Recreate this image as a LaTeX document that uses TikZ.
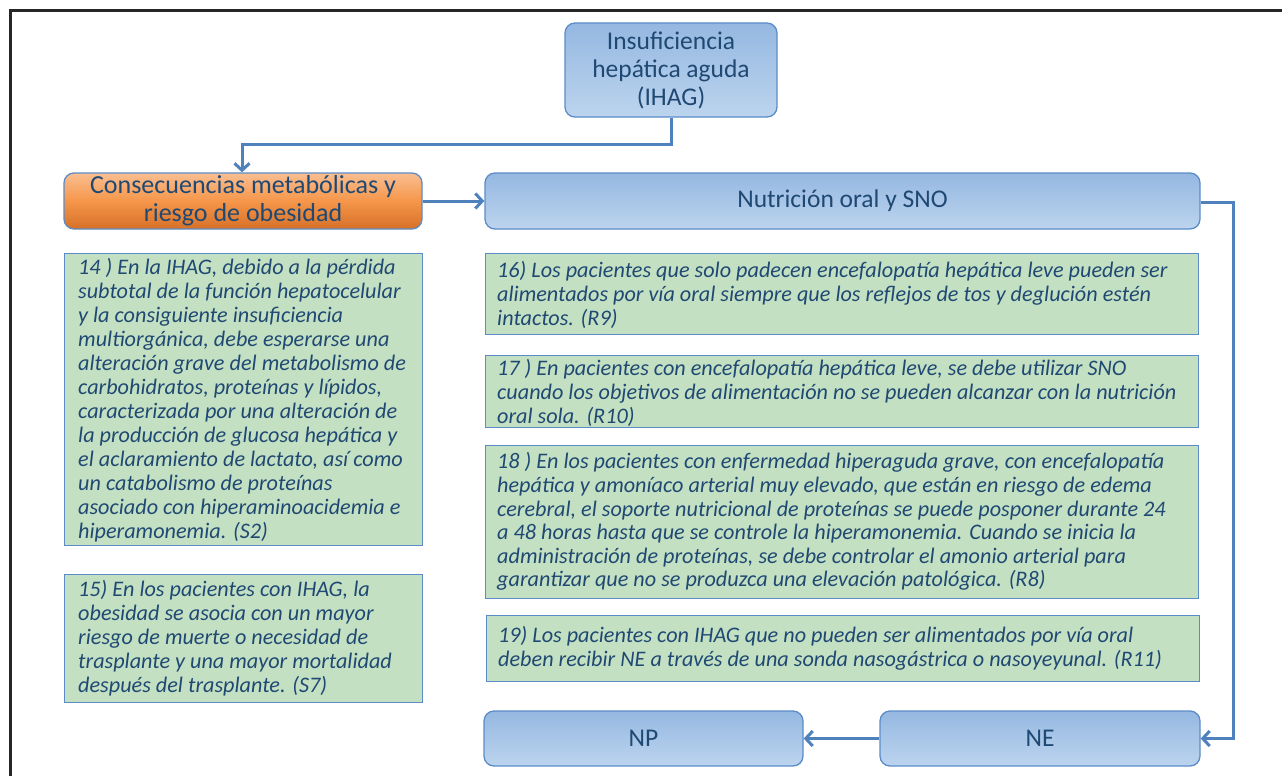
\documentclass[tikz,border=0pt]{standalone}
\usepackage{fontspec}
\setmainfont{Carlito}
\usetikzlibrary{arrows.meta}
\definecolor{txtblue}{RGB}{31,73,115}
\definecolor{lineblue}{RGB}{79,129,189}
\definecolor{edgeblue}{RGB}{91,140,199}
\definecolor{bluetop}{RGB}{149,184,225}
\definecolor{bluebot}{RGB}{188,212,238}
\definecolor{orgtop}{RGB}{250,190,145}
\definecolor{orgmid}{RGB}{245,150,74}
\definecolor{orgbot}{RGB}{214,112,40}
\definecolor{greenfill}{RGB}{196,224,194}
\tikzset{
  bluebox/.style={draw=edgeblue, line width=1.3pt, rounded corners=10pt,
    top color=bluetop, bottom color=bluebot, text=txtblue, align=center,
    inner sep=0pt, font=\fontsize{25.5}{28}\selectfont},
  orangebox/.style={draw=edgeblue, line width=1.3pt, rounded corners=10pt,
    top color=orgtop, bottom color=orgbot, middle color=orgmid, text=txtblue, align=center,
    inner sep=0pt, font=\fontsize{26}{28}\selectfont},
  greenbox/.style={draw=edgeblue, line width=1.3pt, fill=greenfill, inner sep=0pt},
  gtext/.style={text=txtblue, align=left, inner sep=0pt, anchor=north west,
    font=\fontsize{22.2}{24}\itshape\selectfont},
  conn/.style={draw=lineblue, line width=3pt, -{Straight Barb[length=7pt,width=15pt,line width=3pt]}}
}
\begin{document}
\begin{tikzpicture}[x=1pt,y=-1pt]
\useasboundingbox (0,0) rectangle (1282,776);
\draw[line width=3pt, black!85] (10,776) -- (10,11) -- (1282,11);

% header boxes
\node[bluebox, minimum width=212, minimum height=94] (ihag) at (671,70)
  {Insuficiencia\\hepática aguda\\(IHAG)};
\node[orangebox, minimum width=358, minimum height=56] (cons) at (243,201)
  {Consecuencias metabólicas y\\riesgo de obesidad};
\node[bluebox, minimum width=715, minimum height=56] (nut) at (842.5,201)
  {Nutrición oral y SNO};
\node[bluebox, minimum width=319, minimum height=55] (np) at (643.5,738.5) {NP};
\node[bluebox, minimum width=320, minimum height=55] (ne) at (1040,738.5) {NE};

% green boxes
\node[greenbox, anchor=north west, minimum width=358, minimum height=292] (b14) at (64,253) {};
\node[gtext] (t14) at ([xshift=14pt,yshift=-5pt]b14.north west)
  {14 ) En la IHAG, debido a la pérdida\\
   subtotal de la función hepatocelular\\
   y la consiguiente insuficiencia\\
   multiorgánica, debe esperarse una\\
   alteración grave del metabolismo de\\
   carbohidratos, proteínas y lípidos,\\
   caracterizada por una alteración de\\
   la producción de glucosa hepática y\\
   el aclaramiento de lactato, así como\\
   un catabolismo de proteínas\\
   asociado con hiperaminoacidemia e\\
   hiperamonemia. (S2)};

\node[greenbox, anchor=north west, minimum width=358, minimum height=128] (b15) at (64,574) {};
\node[gtext] (t15) at ([xshift=14pt,yshift=-6pt]b15.north west)
  {15) En los pacientes con IHAG, la\\
   obesidad se asocia con un mayor\\
   riesgo de muerte o necesidad de\\
   trasplante y una mayor mortalidad\\
   después del trasplante. (S7)};

\node[greenbox, anchor=north west, minimum width=713, minimum height=81] (b16) at (485,253) {};
\node[gtext] (t16) at ([xshift=12pt,yshift=-8pt]b16.north west)
  {16) Los pacientes que solo padecen encefalopatía hepática leve pueden ser\\
   alimentados por vía oral siempre que los reflejos de tos y deglución estén\\
   intactos. (R9)};

\node[greenbox, anchor=north west, minimum width=713, minimum height=72] (b17) at (485,355) {};
\node[gtext] (t17) at ([xshift=12pt,yshift=-4pt]b17.north west)
  {17 ) En pacientes con encefalopatía hepática leve, se debe utilizar SNO\\
   cuando los objetivos de alimentación no se pueden alcanzar con la nutrición\\
   oral sola. (R10)};

\node[greenbox, anchor=north west, minimum width=713, minimum height=153] (b18) at (485,445) {};
\node[gtext, font=\fontsize{22.2}{23.6}\itshape\selectfont] (t18) at ([xshift=12pt,yshift=-7.5pt]b18.north west)
  {18 ) En los pacientes con enfermedad hiperaguda grave, con encefalopatía\\
   hepática y amoníaco arterial muy elevado, que están en riesgo de edema\\
   cerebral, el soporte nutricional de proteínas se puede posponer durante 24\\
   a 48 horas hasta que se controle la hiperamonemia. Cuando se inicia la\\
   administración de proteínas, se debe controlar el amonio arterial para\\
   garantizar que no se produzca una elevación patológica. (R8)};

\node[greenbox, anchor=north west, minimum width=713, minimum height=66] (b19) at (486,615) {};
\node[gtext] (t19) at ([xshift=12pt,yshift=-11.5pt]b19.north west)
  {19) Los pacientes con IHAG que no pueden ser alimentados por vía oral\\
   deben recibir NE a través de una sonda nasogástrica o nasoyeyunal. (R11)};

% connectors
\coordinate (c2) at (242,144);
\draw[conn] (ihag.south) |- (c2) -- (c2 |- cons.north);
\draw[conn] (cons.east) -- (nut.west);
\coordinate (c3) at (1233,202);
\draw[conn] (nut.east |- c3) -- (c3) |- (ne.east);
\draw[conn] (ne.west) -- (np.east);
\end{tikzpicture}
\end{document}
